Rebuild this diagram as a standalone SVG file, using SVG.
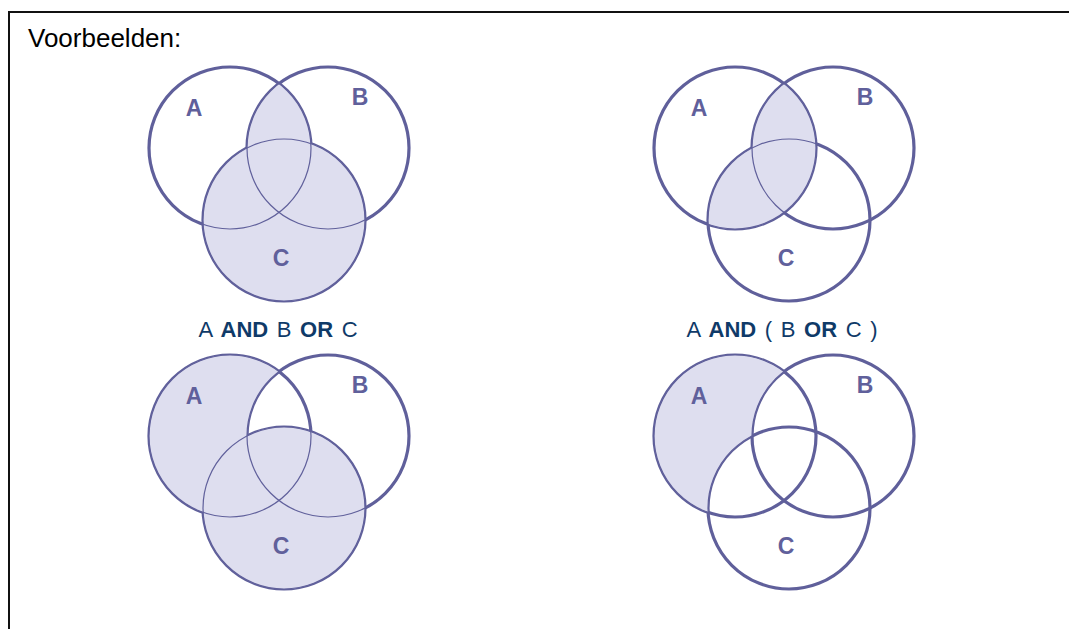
<svg xmlns="http://www.w3.org/2000/svg" width="1069" height="629" viewBox="0 0 1069 629">
<style>
.frame{stroke:#111;stroke-width:2;fill:none}
.title{font-family:"Liberation Sans",Arial,sans-serif;font-size:26px;fill:#000}
.cap{font-family:"Liberation Sans",Arial,sans-serif;font-size:22px;fill:#0f3a68;word-spacing:2.5px}
.cap .b{font-weight:bold}
.thick{fill:none;stroke:#60609b;stroke-width:3.2}
.thin{fill:none;stroke:#60609b;stroke-width:1.2}
.shade{fill:#dedeef}
.lbl{font-family:"Liberation Sans",Arial,sans-serif;font-weight:bold;font-size:23px;fill:#60609b;text-anchor:middle}
</style>
<defs>
<circle id="cA" cx="230" cy="148" r="81"/>
<circle id="cB" cx="328" cy="148" r="81"/>
<circle id="cC" cx="284" cy="220" r="81"/>
<clipPath id="clipA"><use href="#cA"/></clipPath>
<clipPath id="clipB"><use href="#cB"/></clipPath>
<mask id="notB" maskUnits="userSpaceOnUse" x="0" y="0" width="1069" height="629">
<rect x="0" y="0" width="1069" height="629" fill="#fff"/>
<use href="#cB" fill="#000"/>
</mask>
<mask id="notBC" maskUnits="userSpaceOnUse" x="0" y="0" width="1069" height="629">
<rect x="0" y="0" width="1069" height="629" fill="#fff"/>
<use href="#cB" fill="#000"/>
<use href="#cC" fill="#000"/>
</mask>
<g id="thickAll" class="thick"><use href="#cA"/><use href="#cB"/><use href="#cC"/></g>
<g id="thinAll" class="thin"><use href="#cA"/><use href="#cB"/><use href="#cC"/></g>
<g id="labels" class="lbl">
<text x="194" y="116">A</text>
<text x="360" y="105">B</text>
<text x="281" y="266">C</text>
</g>
</defs>

<path class="frame" d="M9 629 V12 H1069"/>
<text class="title" x="28" y="47">Voorbeelden:</text>

<g id="venn-and-or">
<use href="#thickAll"/>
<use href="#cC" class="shade"/>
<use href="#cA" class="shade" clip-path="url(#clipB)"/>
<use href="#thinAll"/>
<use href="#labels"/>
</g>

<g id="venn-and-paren" transform="translate(505,0)">
<use href="#thickAll"/>
<use href="#cB" class="shade" clip-path="url(#clipA)"/>
<use href="#cC" class="shade" clip-path="url(#clipA)"/>
<use href="#thinAll"/>
<use href="#labels"/>
</g>

<text class="cap" x="278" y="337" text-anchor="middle">A <tspan class="b">AND</tspan> B <tspan class="b">OR</tspan> C</text>
<text class="cap" x="782" y="337" text-anchor="middle">A <tspan class="b">AND</tspan> ( B <tspan class="b">OR</tspan> C )</text>

<g id="venn-bl" transform="translate(0,288)">
<use href="#thickAll"/>
<use href="#cA" class="shade" mask="url(#notB)"/>
<use href="#cC" class="shade"/>
<use href="#thinAll"/>
<use href="#labels"/>
</g>

<g id="venn-br" transform="translate(505,288)">
<use href="#thickAll"/>
<use href="#cA" class="shade" mask="url(#notBC)"/>
<use href="#thinAll"/>
<use href="#labels"/>
</g>
</svg>
